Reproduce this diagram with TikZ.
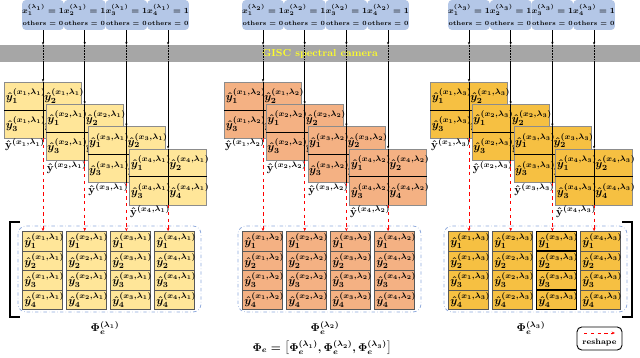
\documentclass[tikz,border=0pt]{standalone}
\usepackage{amsmath}
\usepackage{tikz}
\usetikzlibrary{positioning, arrows.meta}
\definecolor{boxblue}{RGB}{180,199,231}
\definecolor{bandgray}{RGB}{166,166,166}
\definecolor{camyellow}{RGB}{255,255,40}
\definecolor{lamA}{RGB}{255,230,153}
\definecolor{lamB}{RGB}{244,177,131}
\definecolor{lamC}{RGB}{246,192,66}
\definecolor{frameblue}{RGB}{143,170,220}

\begin{document}
\begin{tikzpicture}[
        x=0.03125cm, y=-0.03125cm,
        xbox/.style={rectangle, fill=boxblue, rounded corners=0.12cm, minimum width=1.25cm, minimum height=0.9375cm, inner sep=0pt, align=center, font=\boldmath\bfseries},
        band/.style={rectangle, fill=bandgray, minimum width=20cm, minimum height=0.53cm, inner sep=0pt, text=camyellow, font=\small\bfseries},
        mosaic/.style={rectangle, draw=black!45, minimum width=2.406cm, minimum height=1.75cm, inner sep=0pt},
        ytext/.style={anchor=west, inner sep=0.5pt, font=\boldmath},
        mcell/.style={rectangle, draw=black!65, line width=0.6pt, minimum width=1.25cm, minimum height=0.609cm, inner xsep=1.5pt, inner ysep=0pt, text width=1.14cm, align=left, font=\boldmath},
        divider/.style={line width=0.8pt},
        feed/.style={-{Stealth[length=2.5pt, width=2pt]}, line width=0.5pt},
        redarrow/.style={-{Stealth[length=3pt, width=2.5pt]}, dashed, red, line width=0.7pt},
        matframe/.style={draw=frameblue, dash dot, line width=0.7pt, rounded corners=0.25cm}
    ]
%
    \useasboundingbox (0,0) rectangle (640,358);
%
    % Camera
    \node[band] (band) at (320,53.5) {GISC spectral camera};
%
    % Groups
    \foreach \k/\g/\col in {1/0/lamA, 2/220/lamB, 3/426/lamC}{
        \foreach \i in {1,...,4}{
            \pgfmathsetmacro{\cx}{\g+43+41.7*(\i-1)}
            \pgfmathsetmacro{\ty}{82+22.3*(\i-1)}
            \node[xbox] (box-\k-\i) at (\cx,15) {\fontsize{7}{9}\selectfont$x_\i^{(\lambda_\k)}=1$\\[-1pt]\fontsize{5.6}{7}\selectfont others = 0};
            \node[mosaic, fill=\col] (mos-\k-\i) at (\cx,\ty+28) {};
            \foreach \j/\dx/\dy in {1/0/14, 2/38.5/14, 3/0/42, 4/38.5/42}
                \node[ytext] (y-\k-\i-\j) at (\cx-38+\dx,\ty+\dy) {$\hat{y}_\j^{(x_\i,\lambda_\k)}$};
            \draw[divider] (mos-\k-\i.west) -- (mos-\k-\i.east);
            \draw[divider] (mos-\k-\i.north) -- (mos-\k-\i.south);
            \node[anchor=north west, inner sep=0.5pt, font=\boldmath] (lab-\k-\i) at (mos-\k-\i.south west) {$\hat{\mathbf{y}}^{(x_\i,\lambda_\k)}$};
            \draw[feed] (box-\k-\i) -- (box-\k-\i |- band.north);
            \draw[densely dotted] (box-\k-\i |- band.north) -- (box-\k-\i |- band.south);
            \draw[feed] (box-\k-\i |- band.south) -- (mos-\k-\i.north);
        }
        % Matrix
        \draw[matframe] (\g+18,226) rectangle (\g+201,312);
        \foreach \i in {1,...,4}{
            \foreach \j in {1,...,4}
                \node[mcell, fill=\col] (cell-\k-\i-\j) at (\g+42.5+44*\i-44,241.25+19.5*\j-19.5) {$\hat{y}_\j^{(x_\i,\lambda_\k)}$};
            \draw[redarrow] (mos-\k-\i.south) -- (mos-\k-\i.south |- cell-\k-\i-1.north);
        }
        \node[font=\boldmath] (phi-\k) at (\g+105,328) {$\Phi_e^{(\lambda_\k)}$};
    }
    \foreach \j in {1,...,4}
        \draw[line width=1.1pt] (cell-3-3-\j.north west) rectangle (cell-3-3-\j.south east);
%
    % Brackets
    \draw[line width=0.9pt] (20,222) -- (10,222) -- (10,317) -- (20,317);
    \draw[line width=0.9pt] (622,222) -- (632,222) -- (632,317) -- (622,317);
%
    \node[font=\boldmath] (phi) at (322,348) {$\Phi_e=\left[\Phi_e^{(\lambda_1)},\Phi_e^{(\lambda_2)},\Phi_e^{(\lambda_3)}\right]$};
%
    % Legend
    \node[draw, line width=0.8pt, rounded corners=0.15cm, minimum width=1.406cm, minimum height=0.72cm] (leg) at (599.5,338.5) {};
    \node[font=\scriptsize\bfseries, inner sep=0pt] (legtext) at (599.5,342.5) {reshape};
    \coordinate (legA) at (584,333);
    \coordinate (legB) at (615,333);
    \draw[redarrow] (legA) -- (legB);
%
\end{tikzpicture}
\end{document}
